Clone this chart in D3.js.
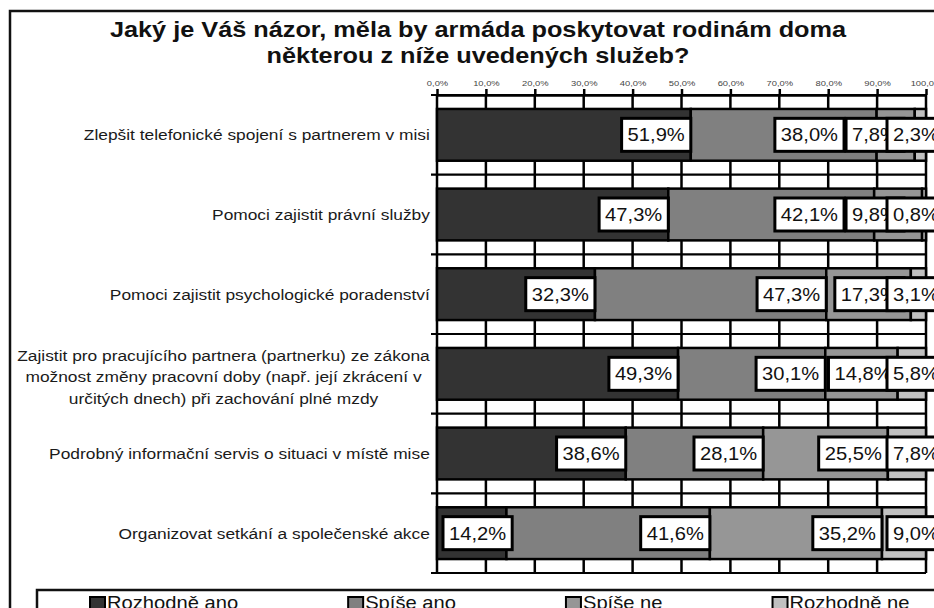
<!DOCTYPE html>
<html>
<head>
<meta charset="utf-8">
<script src="https://cdn.jsdelivr.net/npm/d3@7"></script>
<style>
  body { margin: 0; background: #fff; }
  svg { display: block; font-family: "Liberation Sans", Arial, sans-serif; }
</style>
</head>
<body>
<svg width="934" height="608"></svg>
<script>
// answers per question, in percent
var categories = [
  ["Zlepšit telefonické spojení s partnerem v misi"],
  ["Pomoci zajistit právní služby"],
  ["Pomoci zajistit psychologické poradenství"],
  ["Zajistit pro pracujícího partnera (partnerku) ze zákona",
   "možnost změny pracovní doby (např. její zkrácení v",
   "určitých dnech) při zachování plné mzdy"],
  ["Podrobný informační servis o situaci v místě mise"],
  ["Organizovat setkání a společenské akce"]
];
var seriesNames = ["Rozhodně ano", "Spíše ano", "Spíše ne", "Rozhodně ne"];
var rozhodneAno = [51.9, 47.3, 32.3, 49.3, 38.6, 14.2];
var spiseAno    = [38.0, 42.1, 47.3, 30.1, 28.1, 41.6];
var spiseNe     = [7.8, 9.8, 17.3, 14.8, 25.5, 35.2];
var rozhodneNe  = [2.3, 0.8, 3.1, 5.8, 7.8, 9.0];
var tickValues  = [0, 10, 20, 30, 40, 50, 60, 70, 80, 90, 100];
var titleLines  = ["Jaký je Váš názor, měla by armáda poskytovat rodinám doma",
                   "některou z níže uvedených služeb?"];

var svg = d3.select("svg"),
    colours = d3.scaleOrdinal().domain(seriesNames)
      .range(["#333333", "#808080", "#969696", "#c0c0c0"]),
    SX = 1.12; // the picture is a bit wider than tall, so is the type

var rows = categories.map(function(c, i) {
  return {i: i, lines: c, "Rozhodně ano": rozhodneAno[i], "Spíše ano": spiseAno[i],
          "Spíše ne": spiseNe[i], "Rozhodně ne": rozhodneNe[i]};
});
var stacked = d3.stack().keys(seriesNames)(rows);

var x = d3.scaleLinear().domain([0, 100]).range([437, 926]),
    y = d3.scaleBand().domain(d3.range(rows.length)).range([95, 573])
      .paddingInner(0.35).paddingOuter(0.175);

var pct = function(d) { return d3.format(".1f")(d).replace(".", ",") + "%"; };

function stretch(sel, tx, ty, k) {
  return sel.attr("transform", "translate(" + tx + "," + ty + ") scale(" + (k || SX) + ",1)");
}

// outer frame
svg.append("rect").attr("x", 10).attr("y", 11).attr("width", 1000).attr("height", 700)
    .attr("fill", "#fff").attr("stroke", "#111").attr("stroke-width", 2.5);

// title
titleLines.forEach(function(t, i) {
  svg.append("text").call(stretch, 478, 37 + i * 26, 1.15)
      .attr("text-anchor", "middle").attr("font-weight", "bold")
      .attr("font-size", 22).attr("fill", "#111").text(t);
});

var g = svg.append("g");

// horizontal lines at category boundaries, with a small tick on the left
var bounds = d3.range(rows.length + 1).map(function(k) {
  return y.range()[0] + k * y.step();
});
g.selectAll(".hline").data(bounds).enter().append("line")
    .attr("x1", 431).attr("x2", x(100))
    .attr("y1", function(d) { return d; }).attr("y2", function(d) { return d; })
    .attr("stroke", "#000").attr("stroke-width", 2.2);

// vertical grid
g.selectAll(".vline").data(tickValues).enter().append("line")
    .attr("x1", function(d) { return x(d); }).attr("x2", function(d) { return x(d); })
    .attr("y1", bounds[0]).attr("y2", bounds[bounds.length - 1])
    .attr("stroke", "#000").attr("stroke-width", 2.5);

// top axis
var ax = g.append("g").attr("transform", "translate(0," + bounds[0] + ")")
    .call(d3.axisTop(x).tickValues(tickValues).tickSize(6).tickSizeOuter(0).tickFormat(pct));
ax.select(".domain").attr("stroke", "#000").attr("stroke-width", 2.5);
ax.selectAll(".tick line").attr("stroke", "#000").attr("stroke-width", 2.5);
ax.selectAll(".tick text").attr("font-size", 7.5).attr("fill", "#444").attr("y", -9)
    .attr("font-family", "Liberation Sans, Arial, sans-serif")
    .attr("transform", "scale(1.25,1)");

// bars
g.selectAll(".series").data(stacked).enter().append("g")
    .attr("fill", function(s) { return colours(s.key); })
  .selectAll("rect").data(function(s) { return s; }).enter().append("rect")
    .attr("x", function(d) { return x(d[0]); })
    .attr("y", function(d) { return y(d.data.i); })
    .attr("width", function(d) { return x(d[1]) - x(d[0]); })
    .attr("height", y.bandwidth())
    .attr("stroke", "#000").attr("stroke-width", 2.5);

// category labels, right side at 430, multi-line ones centred as a block
var cat = svg.selectAll(".cat").data(rows).enter().append("g");
cat.each(function(r) {
  var gg = d3.select(this), n = r.lines.length,
      cy = y(r.i) + y.bandwidth() / 2 + (n > 1 ? 3 : 0);
  var ts = gg.selectAll("text").data(r.lines).enter().append("text")
      .attr("font-size", 15.5).attr("fill", "#1a1a1a").attr("text-anchor", "middle")
      .text(function(d) { return d; });
  var w = d3.max(ts.nodes(), function(n) { return n.getComputedTextLength(); }) * SX;
  ts.each(function(d, j) {
    stretch(d3.select(this), 430 - w / 2, cy + 5.5 + (j - (n - 1) / 2) * 21.5);
  });
});

// data labels: boxes end at their segment, pushed left so they do not collide
var BOX_H = 33, PAD = 6, LAST_INSET = 39, LAST_OVERLAP = 17, GAP = 2;
var lab = svg.append("g");
rows.forEach(function(r) {
  var cy = y(r.i) + y.bandwidth() / 2;
  var items = stacked.map(function(s) {
    var t = lab.append("text").attr("font-size", 18).attr("fill", "#111")
        .text(pct(s[r.i].data[s.key]));
    return {t: t, end: x(s[r.i][1]), w: t.node().getComputedTextLength() * SX + 2 * PAD};
  });
  for (var k = items.length - 1; k >= 0; k--) {
    var it = items[k], right;
    if (k === items.length - 1) {
      it.left = it.end - LAST_INSET;
      continue;
    }
    var lim = items[k + 1].left + (k === items.length - 2 ? LAST_OVERLAP : -GAP);
    right = Math.min(it.end, lim);
    it.left = Math.max(right - it.w, x(0) + 6);
  }
  items.forEach(function(it) {
    lab.append("rect").attr("x", it.left).attr("y", cy - BOX_H / 2)
        .attr("width", it.w).attr("height", BOX_H)
        .attr("fill", "#fff").attr("stroke", "#000").attr("stroke-width", 3);
    lab.node().appendChild(it.t.node());
    stretch(it.t, it.left + PAD, cy + 6.5);
  });
});

// legend
var lg = svg.append("g");
lg.append("rect").attr("x", 37).attr("y", 590).attr("width", 1000).attr("height", 60)
    .attr("fill", "#fff").attr("stroke", "#111").attr("stroke-width", 2.5);
var lx = 90;
seriesNames.forEach(function(name) {
  lg.append("rect").attr("x", lx).attr("y", 597).attr("width", 15).attr("height", 15)
      .attr("fill", colours(name)).attr("stroke", "#000").attr("stroke-width", 2);
  var t = lg.append("text").attr("font-size", 18).attr("fill", "#111").text(name);
  stretch(t, lx + 17, 609);
  lx += 17 + t.node().getComputedTextLength() * SX + 110;
});
</script>
</body>
</html>
